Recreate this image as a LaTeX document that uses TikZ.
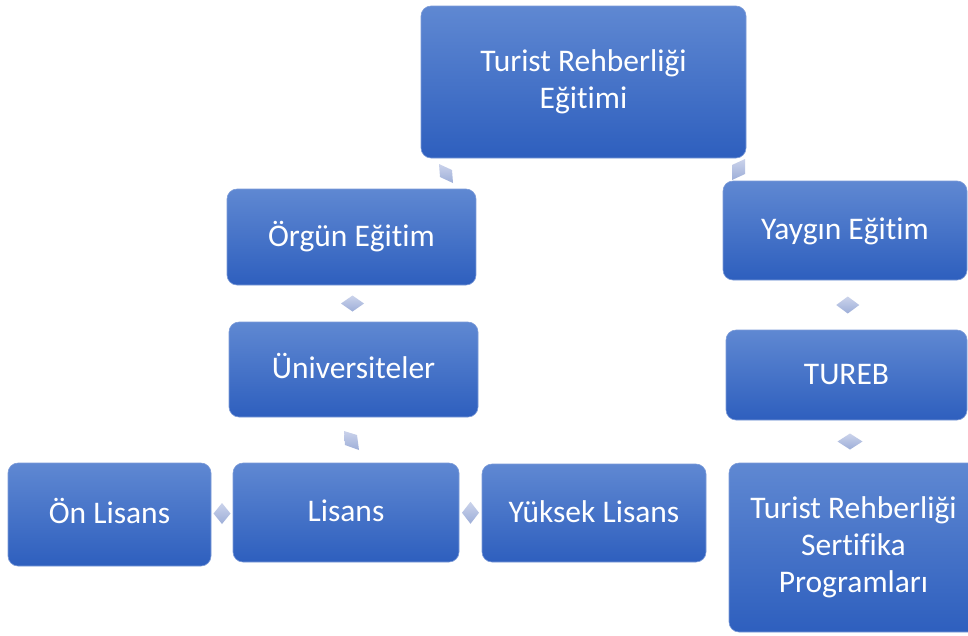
\documentclass[tikz,border=0pt]{standalone}
\usepackage{fontspec}
\setmainfont{Carlito}[Ligatures={NoCommon}]
\usetikzlibrary{shapes.geometric,calc}
\definecolor{boxtop}{HTML}{5F88D2}
\definecolor{boxbot}{HTML}{2E5FBE}
\definecolor{boxedge}{HTML}{7C9BD8}
\definecolor{dtop}{HTML}{CBD3EB}
\definecolor{dbot}{HTML}{9DAED8}
\tikzset{
  box/.style={rectangle, rounded corners=10pt, top color=boxtop, bottom color=boxbot,
    draw=boxedge, line width=0.6pt, inner sep=0pt, outer sep=0pt, text=white,
    align=center, font=\fontsize{31.5}{37}\selectfont},
  onebox/.style={box, text height=25pt, text depth=7pt},
  link/.style={shape=diamond, inner sep=0pt, outer sep=0pt, top color=dtop, bottom color=dbot},
  skewlink/.style={top color=dtop, bottom color=dbot}
}
\begin{document}
\begin{tikzpicture}[x=1pt,y=-1pt]
\clip (0,0) rectangle (968,635);
\fill[white] (0,0) rectangle (968,635);
\node[box, minimum width=325pt, minimum height=152pt] (top) at (583.5,82) {Turist Rehberliği\\Eğitimi};
\node[onebox, minimum width=249pt, minimum height=96pt] (orgun) at (351.5,237) {Örgün Eğitim};
\node[onebox, minimum width=244pt, minimum height=99pt] (yaygin) at (845,230.5) {Yaygın Eğitim};
\node[onebox, minimum width=249pt, minimum height=95pt] (univ) at (353.5,369.5) {Üniversiteler};
\node[onebox, minimum width=241pt, minimum height=90pt] (tureb) at (846.5,375) {TUREB};
\node[onebox, minimum width=203pt, minimum height=103pt] (onl) at (109.5,514.5) {Ön Lisans};
\node[onebox, minimum width=226pt, minimum height=99pt] (lis) at (346,512.5) {Lisans};
\node[onebox, minimum width=224pt, minimum height=98pt] (yuk) at (594,513) {Yüksek Lisans};
\node[box, minimum width=249pt, minimum height=169pt] (sert) at (853.5,547.5) {Turist Rehberliği\\Sertifika\\Programları};
% connectors
\shade[skewlink] (439,164) -- (452,170) -- (453,183) -- (440,177) -- cycle;
\shade[skewlink] (732,165) -- (745,159) -- (745,174) -- (732,180) -- cycle;
\shade[skewlink] (344,431) -- (357,435) -- (359,450) -- (345,445) -- cycle;
\node[link, minimum width=23pt, minimum height=16pt] (d3) at ($(orgun.south)!0.5!(univ.north)$) {};
\node[link, minimum width=23pt, minimum height=17pt] (d7) at ($(yaygin.south)!0.5!(tureb.north)+(2,0)$) {};
\node[link, minimum width=25pt, minimum height=16pt] (d8) at ($(tureb.south)!0.5!(sert.north)$) {};
\node[link, minimum width=17pt, minimum height=21pt] (d5) at ($(onl.east)!0.5!(lis.west)$) {};
\node[link, minimum width=17pt, minimum height=22pt] (d6) at ($(lis.east)!0.5!(yuk.west)$) {};
\end{tikzpicture}
\end{document}
